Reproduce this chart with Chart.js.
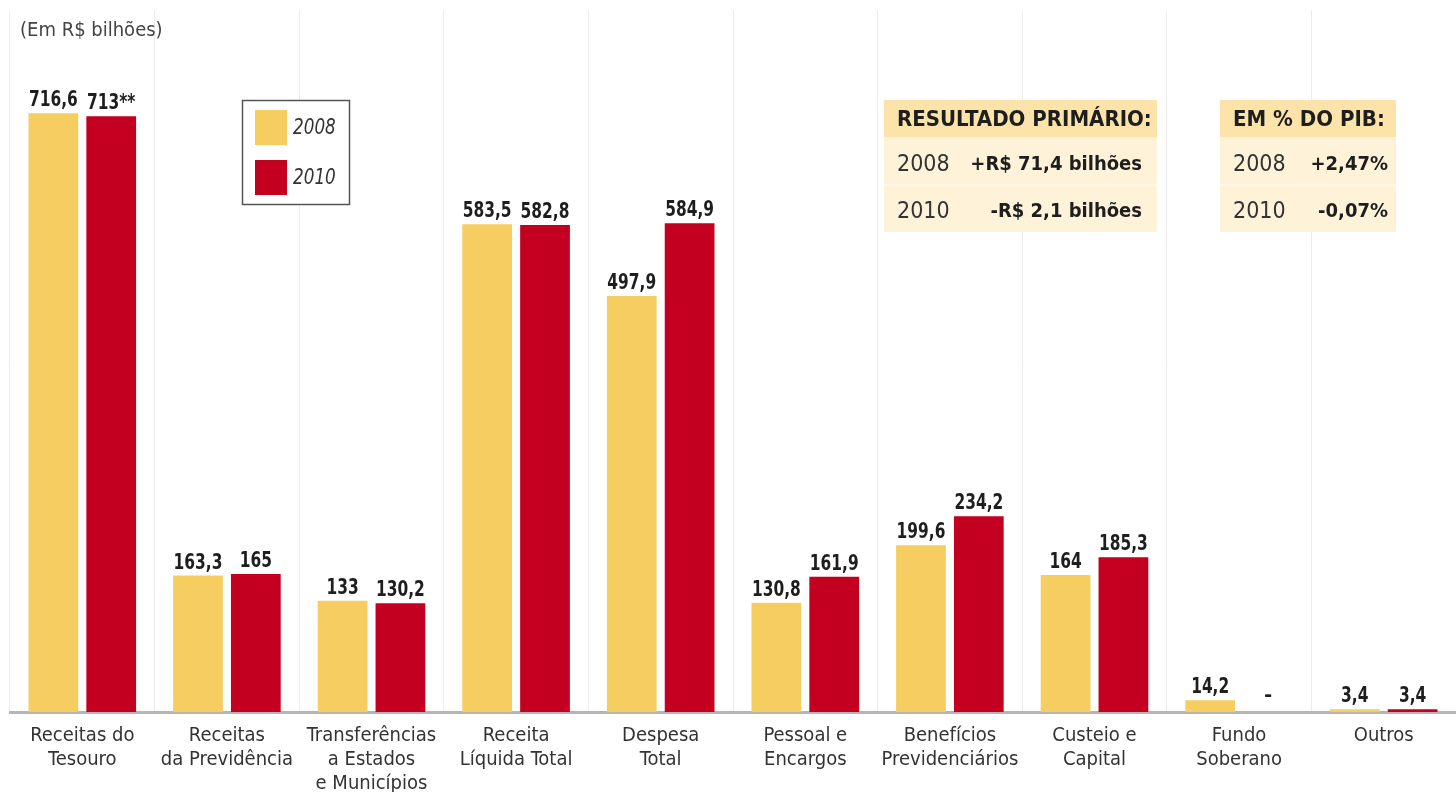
<!DOCTYPE html>
<html lang="pt-BR">
<head>
<meta charset="utf-8">
<script src="https://cdn.jsdelivr.net/npm/chart.js@4.4.1/dist/chart.umd.min.js"></script>
<style>
  html, body { margin: 0; padding: 0; background: #fff; }
  #wrap { position: relative; width: 1456px; height: 792px; }
</style>
</head>
<body>
<div id="wrap"><canvas id="chart"></canvas></div>
<script>
// Data
const categories = [
  ["Receitas do", "Tesouro"],
  ["Receitas", "da Previdência"],
  ["Transferências", "a Estados", "e Municípios"],
  ["Receita", "Líquida Total"],
  ["Despesa", "Total"],
  ["Pessoal e", "Encargos"],
  ["Benefícios", "Previdenciários"],
  ["Custeio e", "Capital"],
  ["Fundo", "Soberano"],
  ["Outros"]
];
const values2008 = [716.6, 163.3, 133, 583.5, 497.9, 130.8, 199.6, 164, 14.2, 3.4];
const values2010 = [713, 165, 130.2, 582.8, 584.9, 161.9, 234.2, 185.3, null, 3.4];
const notes2010  = ["**", "", "", "", "", "", "", "", "", ""];
const unitLabel = "(Em R$ bilhões)";
const resultadoTitle = "RESULTADO PRIMÁRIO:";
const resultadoRows = [["2008", "+R$ 71,4 bilhões"], ["2010", "-R$ 2,1 bilhões"]];
const pibTitle = "EM % DO PIB:";
const pibRows = [["2008", "+2,47%"], ["2010", "-0,07%"]];

const YELLOW = "#F6CD60";
const RED = "#C3001F";
const NARROW = "'Liberation Sans Narrow', 'DejaVu Sans Condensed', sans-serif";

const fmt = v => v == null ? "–" : String(v).replace(".", ",");

// text squeezed horizontally, the print font is condensed
function narrowText(ctx, txt, x, y, sx) {
  ctx.save();
  ctx.translate(x, y);
  ctx.scale(sx, 1);
  ctx.fillText(txt, 0, 0);
  ctx.restore();
}

// Draws value labels, unit, legend and the two info boxes
const extras = {
  id: "extras",
  afterDatasetsDraw(chart) {
    const ctx = chart.ctx;
    const y = chart.scales.y;
    ctx.save();

    // value labels above bars
    ctx.fillStyle = "#1e1e1e";
    ctx.font = "bold 22px " + NARROW;
    ctx.textAlign = "center";
    ctx.textBaseline = "alphabetic";
    chart.data.datasets.forEach((ds, di) => {
      const meta = chart.getDatasetMeta(di);
      meta.data.forEach((bar, i) => {
        const v = ds.data[i];
        const top = v == null ? y.getPixelForValue(0) - 10 : bar.y - 7;
        let txt = fmt(v);
        if (di === 1 && v != null) txt += notes2010[i];
        narrowText(ctx, txt, bar.x, top, 0.78);
      });
    });

    // unit label
    ctx.fillStyle = "#444";
    ctx.font = "20px " + NARROW;
    ctx.textAlign = "left";
    ctx.textBaseline = "middle";
    ctx.fillText(unitLabel, 20, 31);

    // legend
    ctx.strokeStyle = "#555";
    ctx.lineWidth = 1.5;
    ctx.fillStyle = "#fff";
    ctx.fillRect(242, 100, 108, 105);
    ctx.strokeRect(242.5, 100.5, 107, 104);
    chart.data.datasets.forEach((ds, di) => {
      const top = 110 + di * 50;
      ctx.fillStyle = ds.backgroundColor;
      ctx.fillRect(255, top, 32, 35);
      ctx.fillStyle = "#333";
      ctx.font = "italic 22px " + NARROW;
      narrowText(ctx, ds.label, 293, top + 18, 0.85);
    });

    // info boxes
    const box = (x, w, title, rows, pad) => {
      ctx.fillStyle = "#FBE3A9";
      ctx.fillRect(x, 100, w, 37);
      ctx.fillStyle = "#FEF2D8";
      ctx.fillRect(x, 137, w, 95);
      ctx.fillStyle = "#FFF8EC";
      ctx.fillRect(x, 184, w, 2);
      ctx.fillStyle = "#1e1e1e";
      ctx.textAlign = "left";
      ctx.font = "bold 22px " + NARROW;
      ctx.fillText(title, x + 13, 120);
      rows.forEach((r, i) => {
        const ry = 165 + i * 47;
        ctx.fillStyle = "#333";
        ctx.textAlign = "left";
        ctx.font = "23px " + NARROW;
        ctx.fillText(r[0], x + 13, ry);
        ctx.fillStyle = "#1e1e1e";
        ctx.textAlign = "right";
        ctx.font = "bold 20px " + NARROW;
        ctx.fillText(r[1], x + w - pad, ry);
      });
    };
    box(884, 273, resultadoTitle, resultadoRows, 15);
    box(1220, 176, pibTitle, pibRows, 8);

    ctx.restore();
  }
};

new Chart(document.getElementById("chart"), {
  type: "bar",
  data: {
    labels: categories,
    datasets: [
      { label: "2008", data: values2008, backgroundColor: YELLOW },
      { label: "2010", data: values2010, backgroundColor: RED }
    ]
  },
  options: {
    responsive: true,
    maintainAspectRatio: false,
    animation: false,
    layout: { padding: { top: 10, left: 10, right: 0, bottom: -16 } },
    datasets: { bar: { categoryPercentage: 0.8, barPercentage: 0.86 } },
    plugins: { legend: { display: false }, tooltip: { enabled: false } },
    scales: {
      x: {
        grid: { color: "#ececec", lineWidth: 1, drawTicks: false },
        border: { color: "#b5b5b5", width: 3 },
        ticks: {
          color: "#333",
          font: { family: NARROW, size: 20, lineHeight: 1.2 },
          padding: 12,
          maxRotation: 0,
          autoSkip: false
        }
      },
      y: {
        display: false,
        min: 0,
        max: 840
      }
    }
  },
  plugins: [extras]
});
</script>
</body>
</html>
